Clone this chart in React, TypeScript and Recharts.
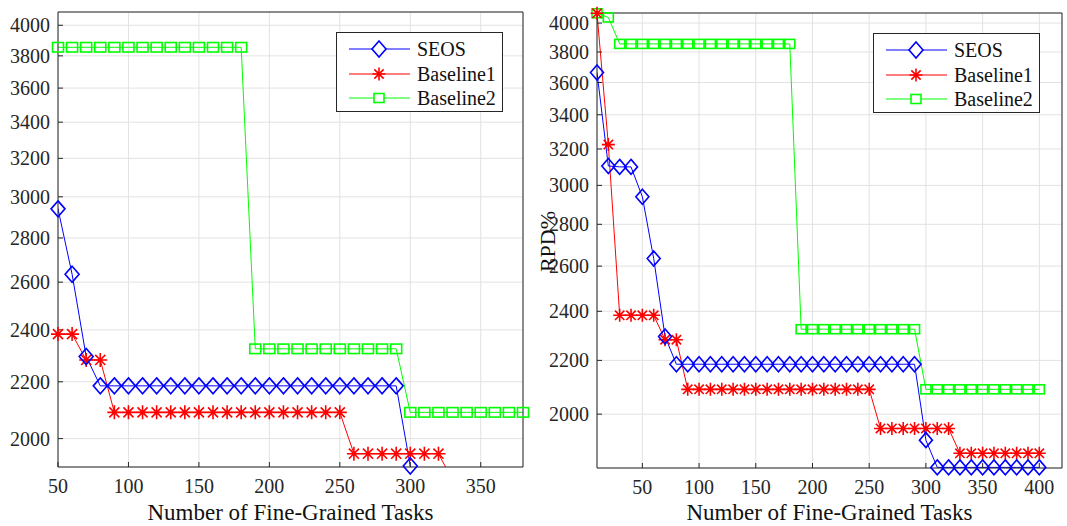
import React from 'react';
import { LineChart, Line, XAxis, YAxis, CartesianGrid } from 'recharts';

// x values (number of fine-grained tasks)
const tasks = [
  10, 20, 30, 40, 50, 60, 70, 80, 90, 100,
  110, 120, 130, 140, 150, 160, 170, 180, 190, 200,
  210, 220, 230, 240, 250, 260, 270, 280, 290, 300,
  310, 320, 330, 340, 350, 360, 370, 380, 390, 400,
];

const seos = [
  3665, 3105, 3100, 3100, 2940, 2635, 2295, 2185,
  2185, 2185, 2185, 2185, 2185, 2185, 2185, 2185, 2185, 2185,
  2185, 2185, 2185, 2185, 2185, 2185, 2185, 2185, 2185, 2185, 2185,
  1910,
  1820, 1820, 1820, 1820, 1820, 1820, 1820, 1820, 1820, 1820,
];

const baseline1 = [
  4070, 3225, 2383, 2383, 2383, 2383, 2282, 2282,
  2090, 2090, 2090, 2090, 2090, 2090, 2090, 2090, 2090,
  2090, 2090, 2090, 2090, 2090, 2090, 2090, 2090,
  1950, 1950, 1950, 1950, 1950, 1950, 1950,
  1866, 1866, 1866, 1866, 1866, 1866, 1866, 1866,
];

const baseline2 = [
  4070, 4040,
  3855, 3855, 3855, 3855, 3855, 3855, 3855, 3855,
  3855, 3855, 3855, 3855, 3855, 3855, 3855, 3855,
  2325, 2325, 2325, 2325, 2325, 2325, 2325, 2325, 2325, 2325, 2325,
  2090, 2090, 2090, 2090, 2090, 2090, 2090, 2090, 2090, 2090, 2090,
];

const yTicks = [2000, 2200, 2400, 2600, 2800, 3000, 3200, 3400, 3600, 3800, 4000];
const xTicksLeft = [50, 100, 150, 200, 250, 300, 350];
const xTicksRight = [50, 100, 150, 200, 250, 300, 350, 400];

const BLUE = '#0000ff';
const RED = '#ff0000';
const GREEN = '#00ff00';
const AXIS = '#262626';
const FONT = '"Liberation Serif", "Times New Roman", serif';

type Sizes = { dw: number; dh: number; sw: number; sh: number; st: number };

const diamondPath = (cx: number, cy: number, w: number, h: number) =>
  `M${cx},${cy - h}L${cx + w},${cy}L${cx},${cy + h}L${cx - w},${cy}Z`;

const starPath = (cx: number, cy: number, r: number) => {
  const d = r * 0.72;
  return `M${cx - r},${cy}L${cx + r},${cy}M${cx},${cy - r}L${cx},${cy + r}` +
    `M${cx - d},${cy - d}L${cx + d},${cy + d}M${cx - d},${cy + d}L${cx + d},${cy - d}`;
};

function makeDot(kind: 'diamond' | 'star' | 'square', s: Sizes) {
  return (props: any) => {
    const { cx, cy, value, index } = props;
    const key = `${kind}-${index}`;
    if (value == null || cx == null || cy == null || isNaN(cy)) return <g key={key} />;
    if (kind === 'diamond')
      return <path key={key} d={diamondPath(cx, cy, s.dw, s.dh)} fill="none" stroke={BLUE} strokeWidth={1.6} />;
    if (kind === 'star')
      return <path key={key} d={starPath(cx, cy, s.st)} fill="none" stroke={RED} strokeWidth={1.6} />;
    return (
      <rect key={key} x={cx - s.sw / 2} y={cy - s.sh / 2} width={s.sw} height={s.sh}
        fill="none" stroke={GREEN} strokeWidth={1.6} />
    );
  };
}

type PanelProps = {
  left: number;
  width: number;
  xDomain: [number, number];
  yDomain: [number, number];
  xTicks: number[];
  top: number;
  right: number;
  yAxisWidth: number;
  xAxisHeight: number;
  labelOffset: number;
  yLabel?: string;
  sizes: Sizes;
};

function Panel(p: PanelProps) {
  // full rows for the lines (clipped by the axes), visible rows for the markers
  const rows = tasks.map((x, i) => ({ x, seos: seos[i], baseline1: baseline1[i], baseline2: baseline2[i] }));
  const inY = (v: number) => (v >= p.yDomain[0] && v <= p.yDomain[1] ? v : null);
  const markerRows = rows
    .filter((r) => r.x >= p.xDomain[0] && r.x <= p.xDomain[1])
    .map((r) => ({ x: r.x, seos: inY(r.seos), baseline1: inY(r.baseline1), baseline2: inY(r.baseline2) }));

  const yLabel = p.yLabel
    ? (lp: any) => {
        const vb = lp.viewBox;
        const x = vb.x + 7;
        const y = vb.y + vb.height / 2 + 1;
        return (
          <text x={x} y={y} transform={`rotate(-90 ${x} ${y})`} textAnchor="middle"
            dominantBaseline="central" fontSize={22} fill="#111" fontFamily={FONT}>
            {p.yLabel}
          </text>
        );
      }
    : undefined;

  return (
    <div style={{ position: 'absolute', left: p.left, top: 0 }}>
      <LineChart width={p.width} height={526} margin={{ top: p.top, right: p.right, left: 0, bottom: 0 }}>
        <CartesianGrid stroke="#e2e2e2" strokeWidth={1} />
        <XAxis dataKey="x" type="number" domain={p.xDomain} allowDataOverflow ticks={p.xTicks}
          interval={0} height={p.xAxisHeight} tickSize={-5} tickMargin={17}
          stroke={AXIS} tick={{ fill: AXIS, fontSize: 20, fontFamily: FONT }}
          label={{ value: 'Number of Fine-Grained Tasks', position: 'insideBottom', offset: p.labelOffset, fontSize: 23, fill: '#111', fontFamily: FONT }} />
        <YAxis type="number" scale="log" domain={p.yDomain} allowDataOverflow ticks={yTicks}
          interval={0} width={p.yAxisWidth} tickSize={-5} tickMargin={13}
          stroke={AXIS} tick={{ fill: AXIS, fontSize: 20, fontFamily: FONT }} label={yLabel} />
        <XAxis xAxisId="m" orientation="top" mirror dataKey="x" type="number" domain={p.xDomain}
          ticks={p.xTicks} interval={0} tick={false} tickSize={5} stroke={AXIS} />
        <YAxis yAxisId="m" orientation="right" mirror type="number" scale="log" domain={p.yDomain}
          ticks={yTicks} interval={0} tick={false} tickSize={5} stroke={AXIS} />

        <Line data={rows} dataKey="baseline2" stroke={GREEN} strokeWidth={1} dot={false} activeDot={false} isAnimationActive={false} />
        <Line data={rows} dataKey="baseline1" stroke={RED} strokeWidth={1} dot={false} activeDot={false} isAnimationActive={false} />
        <Line data={rows} dataKey="seos" stroke={BLUE} strokeWidth={1} dot={false} activeDot={false} isAnimationActive={false} />

        <Line data={markerRows} xAxisId="m" yAxisId="m" dataKey="baseline2" stroke="none" dot={makeDot('square', p.sizes)} activeDot={false} isAnimationActive={false} />
        <Line data={markerRows} xAxisId="m" yAxisId="m" dataKey="baseline1" stroke="none" dot={makeDot('star', p.sizes)} activeDot={false} isAnimationActive={false} />
        <Line data={markerRows} xAxisId="m" yAxisId="m" dataKey="seos" stroke="none" dot={makeDot('diamond', p.sizes)} activeDot={false} isAnimationActive={false} />
      </LineChart>
    </div>
  );
}

const legendItems = [
  { name: 'SEOS', color: BLUE, kind: 'diamond' },
  { name: 'Baseline1', color: RED, kind: 'star' },
  { name: 'Baseline2', color: GREEN, kind: 'square' },
];

function LegendBox({ left, top }: { left: number; top: number }) {
  return (
    <div style={{
      position: 'absolute', left, top, width: 167, height: 80, boxSizing: 'border-box',
      border: `1px solid ${AXIS}`, background: '#fff', paddingTop: 4, fontFamily: FONT,
    }}>
      {legendItems.map((it) => (
        <div key={it.name} style={{ display: 'flex', alignItems: 'center', height: 24.5 }}>
          <svg width={80} height={22} style={{ display: 'block' }}>
            <line x1={12} y1={11} x2={73} y2={11} stroke={it.color} strokeWidth={1.2} />
            {it.kind === 'diamond' && <path d={diamondPath(42, 11, 7, 8)} fill="#fff" stroke={it.color} strokeWidth={1.6} />}
            {it.kind === 'star' && <path d={starPath(42, 11, 6.5)} fill="none" stroke={it.color} strokeWidth={1.6} />}
            {it.kind === 'square' && <rect x={37} y={6.5} width={10} height={9} fill="#fff" stroke={it.color} strokeWidth={1.6} />}
          </svg>
          <span style={{ fontSize: 20, color: '#111', lineHeight: '22px' }}>{it.name}</span>
        </div>
      ))}
    </div>
  );
}

export default function App() {
  return (
    <div style={{ position: 'absolute', left: 0, top: 0, width: 1067, height: 526, background: '#fff', fontFamily: FONT }}>
      <Panel left={0} width={540} xDomain={[50, 380]} yDomain={[1907, 4090]} xTicks={xTicksLeft}
        top={12} right={17} yAxisWidth={58} xAxisHeight={59} labelOffset={6}
        sizes={{ dw: 7, dh: 8, sw: 11, sh: 9.5, st: 7 }} />
      <Panel left={540} width={527} xDomain={[10, 420]} yDomain={[1818, 4072]} xTicks={xTicksRight}
        top={13} right={5} yAxisWidth={57} xAxisHeight={58} labelOffset={6} yLabel="RPD%"
        sizes={{ dw: 6.5, dh: 7.5, sw: 10, sh: 9, st: 6.5 }} />
      <LegendBox left={336} top={32} />
      <LegendBox left={873} top={33} />
    </div>
  );
}
